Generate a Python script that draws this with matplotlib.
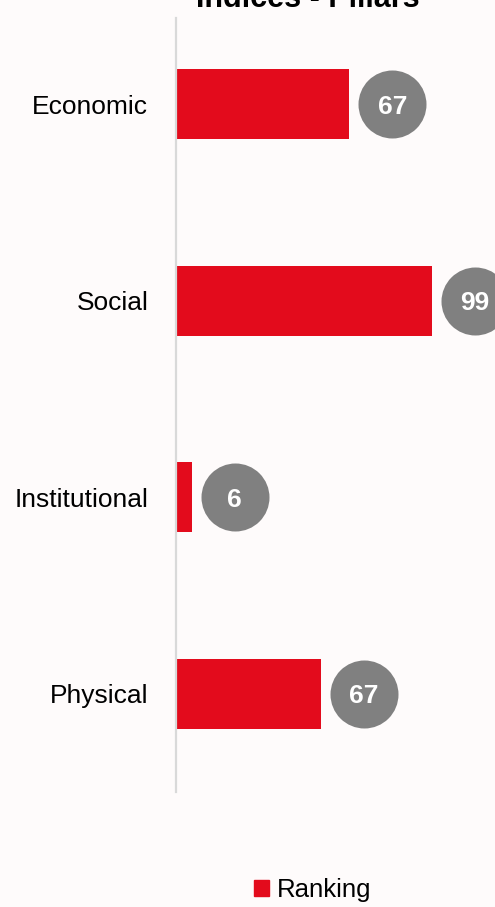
import matplotlib
matplotlib.use("Agg")
import matplotlib.pyplot as plt
import matplotlib.transforms as mtransforms
from matplotlib.patches import Patch

categories = ["Economic", "Social", "Institutional", "Physical"]
values = [67, 99, 6, 56]
value_labels = ["67", "99", "6", "67"]
series_name = "Ranking"
title = "Indices - Pillars"

BG = "#FEFBFB"
RED = "#E30B1C"
GREY = "#808080"
FONT = ["Liberation Sans Narrow", "Liberation Sans", "DejaVu Sans"]

W, H, DPI = 495, 907, 100
fig = plt.figure(figsize=(W / DPI, H / DPI), dpi=DPI, facecolor=BG)
left_px, right_px, top_px, bot_px = 176, 495, 18, 792
ax = fig.add_axes([left_px / W, 1 - bot_px / H, (right_px - left_px) / W, (bot_px - top_px) / H])
ax.set_facecolor(BG)

ypos = list(range(len(categories)))
ax.barh(ypos, values, height=0.356, color=RED, zorder=2)

ax.set_xlim(0, (right_px - left_px) / 2.585)
ax.set_ylim(3.5, -0.44)

trans = mtransforms.offset_copy(ax.transData, fig=fig, x=43 * 72 / DPI, y=0, units="points")
for y, v, lab in zip(ypos, values, value_labels):
    ax.scatter([v], [y], s=(68 * 72 / DPI) ** 2, color=GREY, transform=trans, zorder=3, clip_on=False, linewidths=0)
    ax.text(v, y, lab, transform=trans, ha="center", va="center_baseline", color="white",
            fontsize=19, fontweight="bold", family=FONT, zorder=4, clip_on=False)

ax.set_yticks(ypos)
ax.set_yticklabels(categories, family=FONT, fontsize=19, color="black")
ax.tick_params(axis="y", length=0, pad=20)
ax.set_xticks([])
for s in ["top", "right", "bottom"]:
    ax.spines[s].set_visible(False)
ax.spines["left"].set_color("#D9D9D9")
ax.spines["left"].set_linewidth(1.6)

fig.text(308 / W, 1 - 7 / H, title, ha="center", va="baseline", fontsize=22,
         fontweight="bold", family=FONT, color="black")

fig.legend(handles=[Patch(color=RED, label=series_name)], loc="center",
           bbox_to_anchor=(313 / W, 1 - 890 / H), frameon=False,
           prop={"family": FONT, "size": 18.5}, handlelength=0.58, handleheight=0.58,
           handletextpad=0.3)

fig.savefig("out.png", dpi=DPI, facecolor=BG)
